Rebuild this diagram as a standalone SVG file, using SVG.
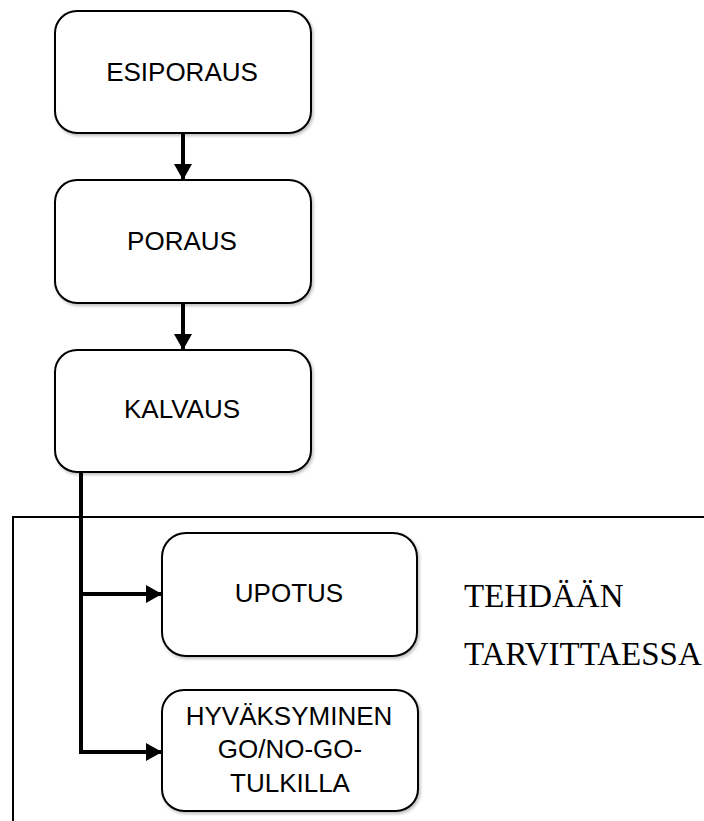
<svg xmlns="http://www.w3.org/2000/svg" width="704" height="821" viewBox="0 0 704 821">
<style>
.box{fill:#fff;stroke:#000;stroke-width:2;filter:url(#sh)}
.lbl{font-family:"Liberation Sans",Arial,sans-serif;font-size:26px;fill:#000;text-anchor:middle}
.note{font-family:"Liberation Serif","Times New Roman",serif;font-size:33px;fill:#000}
.conn{stroke:#000;stroke-width:4;fill:none}
</style>
<defs>
<filter id="sh" x="-10%" y="-10%" width="130%" height="130%">
<feDropShadow dx="1.5" dy="2" stdDeviation="1.5" flood-color="#000" flood-opacity="0.25"/>
</filter>
<marker id="ah" markerUnits="userSpaceOnUse" markerWidth="16" markerHeight="18" viewBox="0 0 16 18" refX="16" refY="9" orient="auto">
<path d="M0,0 L16,9 L0,18 Z" fill="#000"/>
</marker>
</defs>
<rect x="13" y="517" width="720" height="340" fill="none" stroke="#000" stroke-width="2"/>
<g id="connectors">
<line class="conn" x1="183" y1="133" x2="183" y2="180" marker-end="url(#ah)"/>
<line class="conn" x1="183" y1="303" x2="183" y2="350" marker-end="url(#ah)"/>
<polyline class="conn" points="81,472 81,752 162,752" marker-end="url(#ah)"/>
<line class="conn" x1="81" y1="594" x2="162" y2="594" marker-end="url(#ah)"/>
</g>
<g id="esiporaus">
<rect class="box" x="55" y="11" width="256" height="122" rx="22"/>
<text class="lbl" x="182" y="81">ESIPORAUS</text>
</g>
<g id="poraus">
<rect class="box" x="55" y="180" width="256" height="123" rx="22"/>
<text class="lbl" x="182" y="250">PORAUS</text>
</g>
<g id="kalvaus">
<rect class="box" x="55" y="350" width="256" height="122" rx="22"/>
<text class="lbl" x="182" y="418">KALVAUS</text>
</g>
<g id="upotus">
<rect class="box" x="162" y="533" width="255" height="123" rx="24"/>
<text class="lbl" x="289" y="602">UPOTUS</text>
</g>
<g id="hyvaksyminen">
<rect class="box" x="162" y="690" width="256" height="121" rx="22"/>
<text class="lbl" x="289" y="725">HYVÄKSYMINEN</text>
<text class="lbl" x="290" y="758">GO/NO-GO-</text>
<text class="lbl" x="290" y="792">TULKILLA</text>
</g>
<g id="note">
<text class="note" x="464" y="607">TEHDÄÄN</text>
<text class="note" x="464" y="665">TARVITTAESSA</text>
</g>
</svg>
